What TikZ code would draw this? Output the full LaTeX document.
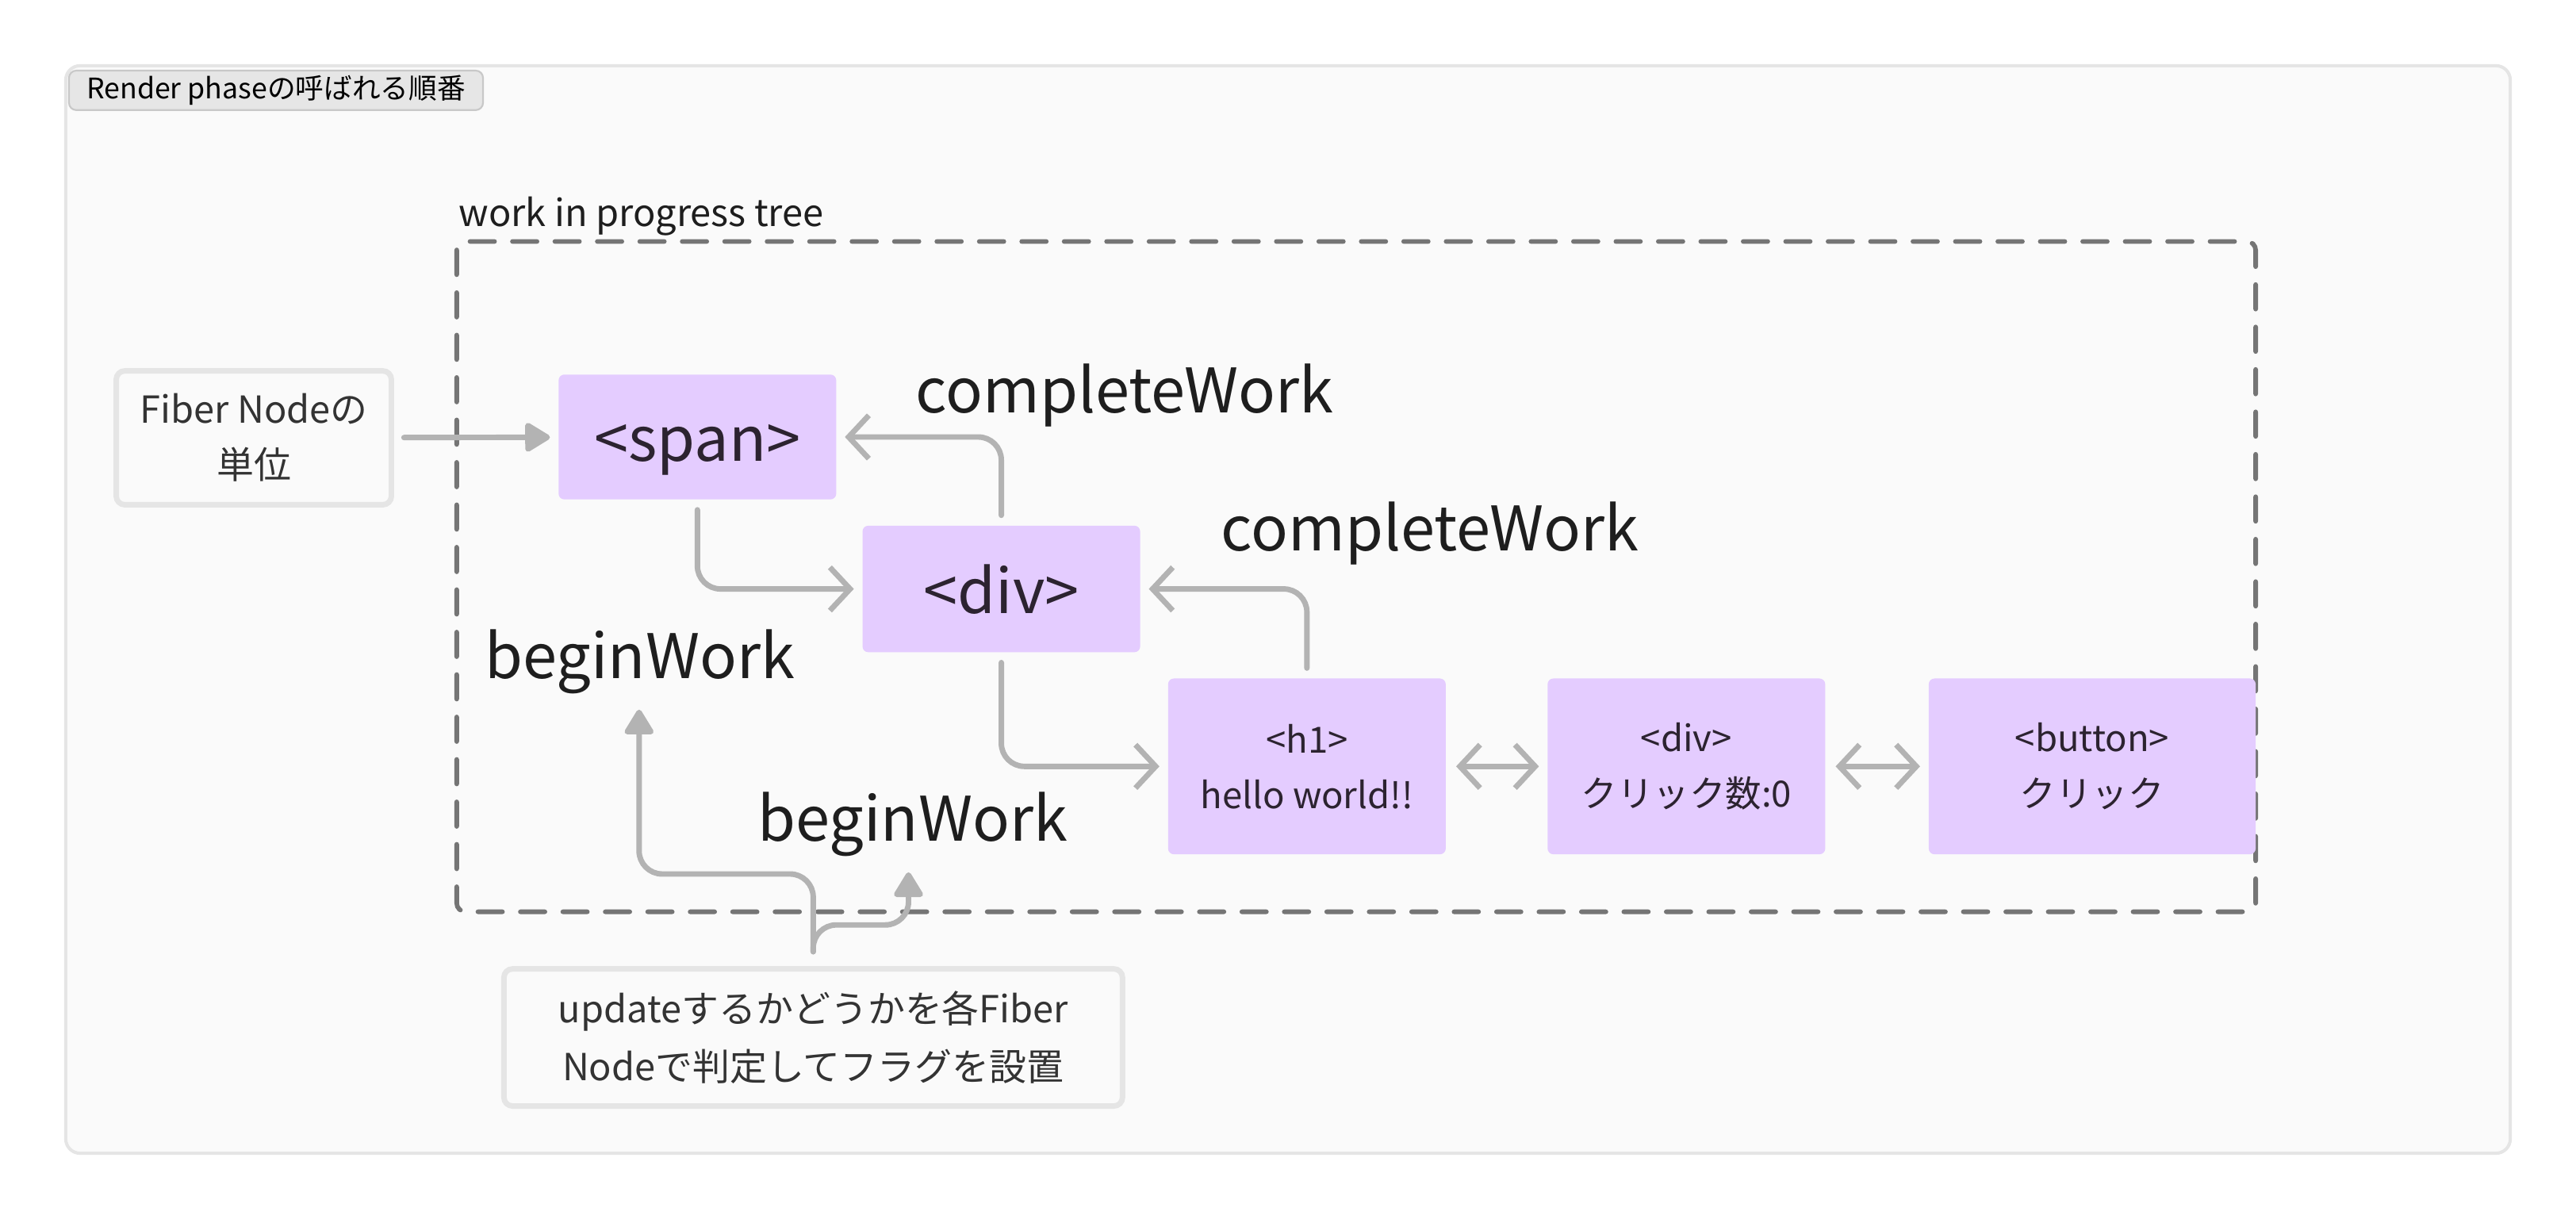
\documentclass[tikz,border=0pt]{standalone}
\usepackage{fontspec}
\setmainfont{Noto Sans CJK JP}
\usetikzlibrary{arrows.meta}
\definecolor{lilac}{HTML}{E4CCFF}
\definecolor{boxtext}{HTML}{2C2330}
\definecolor{ink}{HTML}{1E1E1E}
\definecolor{notetext}{HTML}{333333}
\definecolor{notegray}{HTML}{E5E5E5}
\definecolor{panelfill}{HTML}{FAFAFA}
\definecolor{arrowgray}{HTML}{B3B3B3}
\definecolor{dashgray}{HTML}{757575}
\definecolor{taggray}{HTML}{E6E6E6}
\definecolor{tagborder}{HTML}{C8C8C8}

\begin{document}
\begin{tikzpicture}[x=0.2mm, y=-0.2mm,
    box/.style={fill=lilac, rounded corners=2pt, text=boxtext, align=center, minimum width=33.8mm, inner sep=0pt},
    note/.style={draw=notegray, line width=1.9pt, fill=panelfill, rounded corners=3pt, text=notetext, align=center, inner sep=0pt},
    big/.style={font=\fontsize{21.3}{25}\selectfont},
    small/.style={font=\fontsize{12.5}{19.3}\selectfont},
    lbl/.style={big, text=ink, inner sep=0pt, anchor=base west},
    flow/.style={draw=arrowgray, line width=1.9pt, line cap=round, rounded corners=8pt, -{Straight Barb[length=7pt,width=15pt]}, shorten <=3.4pt, shorten >=2.8pt},
    push/.style={draw=arrowgray, line width=1.9pt, line cap=round, rounded corners=8pt, -{Triangle[length=9.5pt,width=11pt,round]}}]
    \useasboundingbox (0,0) rectangle (1568,742);
    \fill[white] (0,0) rectangle (1568,742);
    \draw[draw=notegray, fill=panelfill, line width=1.1pt, rounded corners=5pt] (40,40) rectangle (1528,702);
    \node[draw=tagborder, fill=taggray, line width=0.6pt, rounded corners=2.5pt, minimum width=50.4mm, minimum height=4.8mm, inner sep=0pt, font=\fontsize{9.8}{11}\selectfont] (title) at (168,55) {Render phaseの呼ばれる順番};

    \draw[draw=dashgray, line width=1.6pt, line cap=round, dash pattern=on 8.5pt off 6.2pt, rounded corners=3pt] (278,147) rectangle (1373,555);
    \node[anchor=base west, inner sep=0pt, text=ink, font=\fontsize{12.9}{14}\selectfont] (wip) at (279,138) {work in progress tree};

    \node[note, minimum width=33.5mm, minimum height=16.3mm, font=\fontsize{12.9}{19.3}\selectfont] (fiber) at (154.5,266.5) {Fiber Nodeの\\単位};
    \node[note, minimum width=75.3mm, minimum height=16.7mm, font=\fontsize{12.9}{19.8}\selectfont] (update) at (495,631.5) {updateするかどうかを各Fiber\\Nodeで判定してフラグを設置};

    \node[box, big, text height=17pt, text depth=0pt, minimum height=15.2mm] (span) at (424.5,266) {<span>};
    \node[box, big, text height=17pt, text depth=0pt, minimum height=15.4mm] (div) at (609.5,358.5) {<div>};
    \node[box, small, minimum height=21.4mm] (h1) at (795.5,466.5) {<h1>\\hello world!!};
    \node[box, small, minimum height=21.4mm] (count) at (1026.5,466.5) {<div>\\クリック数:0};
    \node[box, small, minimum height=21.4mm, minimum width=39.8mm] (button) at (1273.5,466.5) {<button>\\クリック};

    \node[lbl] (begin1) at (295,413) {beginWork};
    \node[lbl] (begin2) at (461,512) {beginWork};
    \node[lbl] (complete1) at (557,251.5) {completeWork};
    \node[lbl] (complete2) at (743,335.5) {completeWork};

    \coordinate (tip1) at (389,432);
    \coordinate (tip2) at (553,531);

    \draw[push, shorten <=3.4pt, shorten >=2.8pt] (fiber) -- (span);
    \draw[flow] (span.south) |- (div.west);
    \draw[flow] (div.north) |- (span.east);
    \draw[flow] (div.south) |- (h1.west);
    \draw[flow] (h1.north) |- (div.east);
    \draw[flow, {Straight Barb[length=7pt,width=15pt]}-{Straight Barb[length=7pt,width=15pt]}] (h1) -- (count);
    \draw[flow, {Straight Barb[length=7pt,width=15pt]}-{Straight Barb[length=7pt,width=15pt]}] (count) -- (button);
    \draw[push] ([yshift=5pt]update.north) -- (495,532) -- (389,532) -- (tip1);
    \draw[push] ([yshift=5pt]update.north) -- (495,563) -- (553,563) -- (tip2);
\end{tikzpicture}
\end{document}
